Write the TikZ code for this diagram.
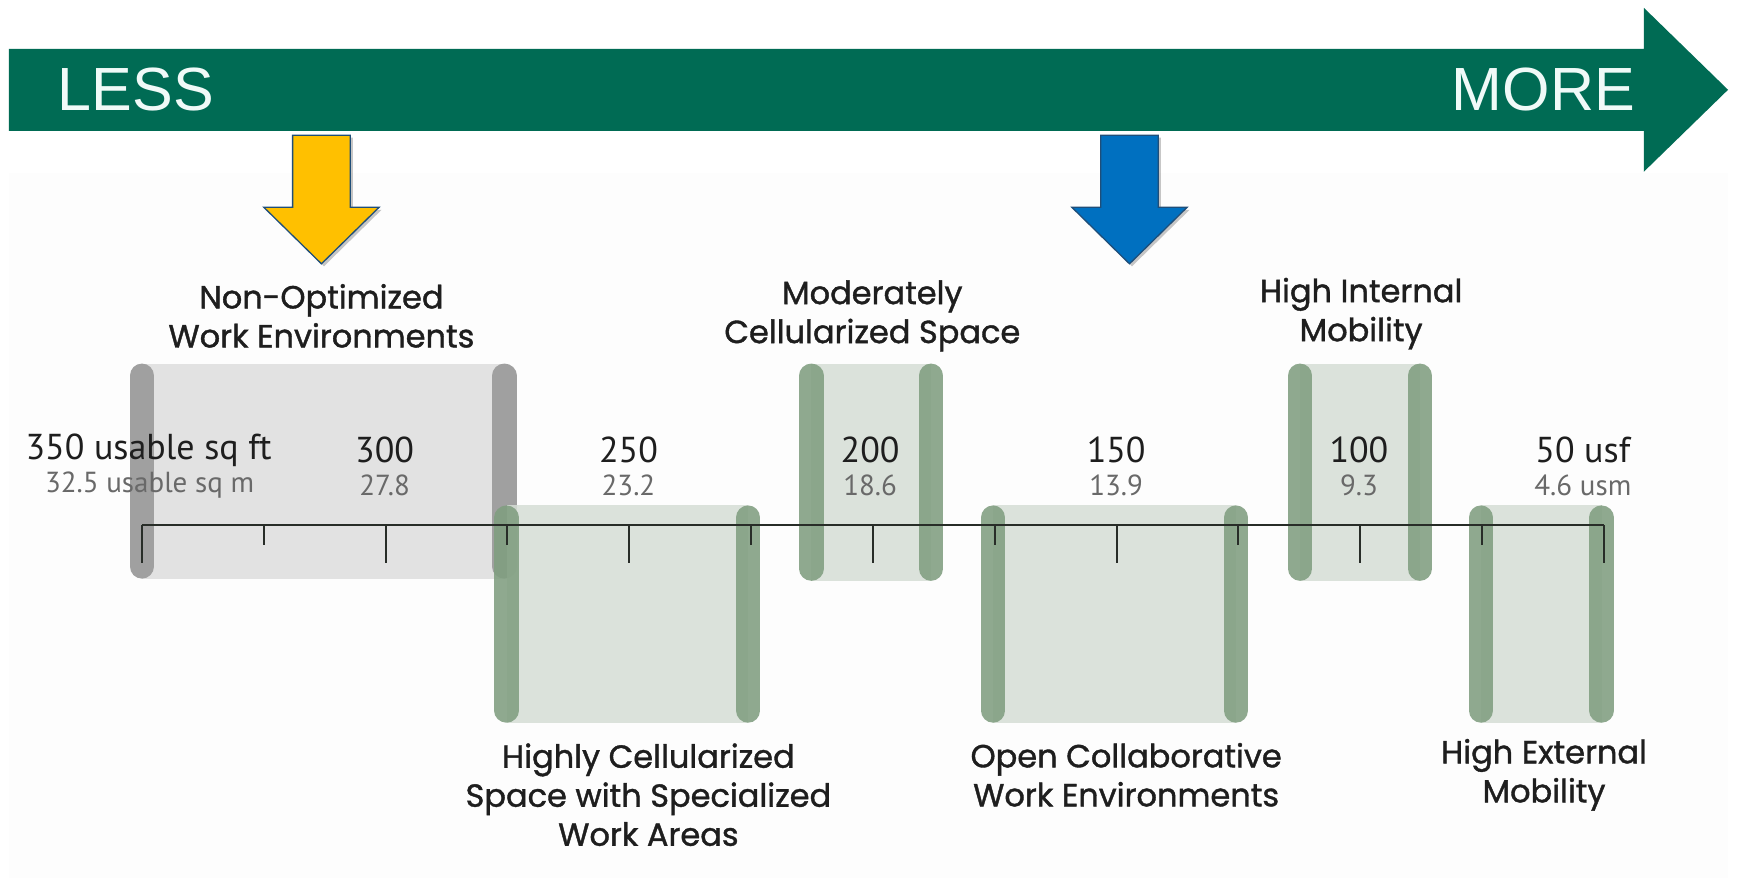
\documentclass[tikz,border=0pt]{standalone}
\usepackage{fontspec}
\setmainfont{Liberation Sans}
\newfontfamily\catfont[FakeBold=1.2]{Poppins}
\newfontfamily\numfont{PT Sans}
\definecolor{trendgreen}{RGB}{0,107,84}
\definecolor{wordwhite}{RGB}{240,250,248}
\definecolor{yelfill}{RGB}{255,192,0}
\definecolor{bluefill}{RGB}{0,112,192}
\definecolor{arrowedge}{RGB}{31,78,121}
\definecolor{backdrop}{RGB}{253,253,253}
\definecolor{grayfill}{RGB}{226,226,226}
\definecolor{graybar}{RGB}{160,160,160}
\definecolor{greenfill}{RGB}{214,222,214}
\definecolor{greenbar}{RGB}{128,158,128}
\definecolor{axisgray}{RGB}{40,45,40}
\definecolor{labelink}{RGB}{30,30,30}
\definecolor{subink}{RGB}{105,105,105}
\begin{document}
\begin{tikzpicture}[x=1.1084pt,y=-1.1084pt,
  endword/.style={inner sep=0pt, text=wordwhite, font=\fontsize{61}{61}\selectfont},
  catlabel/.style={align=center, inner sep=0pt, text=labelink,
    font=\catfont\fontsize{32}{39}\selectfont},
  topnum/.style={inner sep=0pt, text=labelink, font=\numfont\fontsize{36}{36}\selectfont},
  subnum/.style={inner sep=0pt, text=subink, font=\numfont\fontsize{29}{29}\selectfont},
  zonebar/.style={line width=24.4pt, line cap=round},
  axisline/.style={draw=axisgray, line width=2pt},
  pics/pointer/.style={code={
    \fill[black, opacity=0.22, xshift=2.5pt, yshift=-2.5pt]
      (-26,-116) -- (26,-116) -- (26,-51) -- (52,-51) -- (0,0) -- (-52,-51) -- (-26,-51) -- cycle;
    \filldraw[fill=#1, draw=arrowedge, line width=1.3pt, line join=miter]
      (-26,-116) -- (26,-116) -- (26,-51) -- (52,-51) -- (0,0) -- (-52,-51) -- (-26,-51) -- cycle;
  }}]
\useasboundingbox (0,0) rectangle (1568,792);
\fill[white] (0,0) rectangle (1568,792);
\fill[backdrop] (8,156) rectangle (1559,792);

% trend arrow
\fill[trendgreen] (8,44) -- (1483,44) -- (1483,7) -- (1559,81) -- (1483,155) -- (1483,118) -- (8,118) -- cycle;
\node[endword, anchor=west] (less) at (52,81) {LESS};
\node[endword, anchor=east] (more) at (1475,81) {MORE};

% pointers
\pic at (290,238) {pointer=yelfill};
\pic at (1019,238) {pointer=bluefill};

% non-optimized range
\fill[grayfill] (128,328) rectangle (455,522);
\draw[zonebar, graybar] (128,339) -- (128,511);
\draw[zonebar, graybar] (455,339) -- (455,511);

% optimized ranges
\foreach \xa/\xb/\ya/\yb in {446/686/456/652, 721/851/328/524, 885/1126/456/652, 1162/1292/328/524, 1325/1456/456/652} {
  \fill[greenfill, opacity=0.85] (\xa+11,\ya) rectangle (\xb-11,\yb);
  \draw[zonebar, greenbar, opacity=0.88] (\xa+11,\ya+11) -- (\xa+11,\yb-11);
  \draw[zonebar, greenbar, opacity=0.88] (\xb-11,\ya+11) -- (\xb-11,\yb-11);
}

% scale
\draw[axisline] (128,474) -- (1447,474);
\foreach \i in {0,...,12} {
  \pgfmathsetmacro{\tx}{128+\i*109.917}
  \pgfmathsetmacro{\tl}{isodd(\i) ? 492 : 508}
  \draw[axisline] (\tx,474) -- (\tx,\tl);
}

% scale values
\node[topnum] (n350) at (134,406) {350 usable sq ft};
\node[subnum] (m350) at (135,438) {32.5 usable sq m};
\node[topnum] (n300) at (347,406) {300};
\node[subnum] (m300) at (347,438) {27.8};
\node[topnum] (n250) at (567,406) {250};
\node[subnum] (m250) at (567,438) {23.2};
\node[topnum] (n200) at (785,406) {200};
\node[subnum] (m200) at (785,438) {18.6};
\node[topnum] (n150) at (1007,406) {150};
\node[subnum] (m150) at (1007,438) {13.9};
\node[topnum] (n100) at (1226,406) {100};
\node[subnum] (m100) at (1226,438) {9.3};
\node[topnum] (n50) at (1428,406) {50 usf};
\node[subnum] (m50) at (1428,438) {4.6 usm};

% range names
\node[catlabel] (nonopt) at (290,285) {Non-Optimized\\Work Environments};
\node[catlabel] (modcell) at (787,285) {Moderately\\Cellularized Space};
\node[catlabel] (intmob) at (1228,283) {High Internal\\Mobility};
\node[catlabel] (highcell) at (585,717) {Highly Cellularized\\Space with Specialized\\Work Areas};
\node[catlabel] (opencol) at (1016,699) {Open Collaborative\\Work Environments};
\node[catlabel] (extmob) at (1393,699) {High External\\Mobility};
\end{tikzpicture}
\end{document}
